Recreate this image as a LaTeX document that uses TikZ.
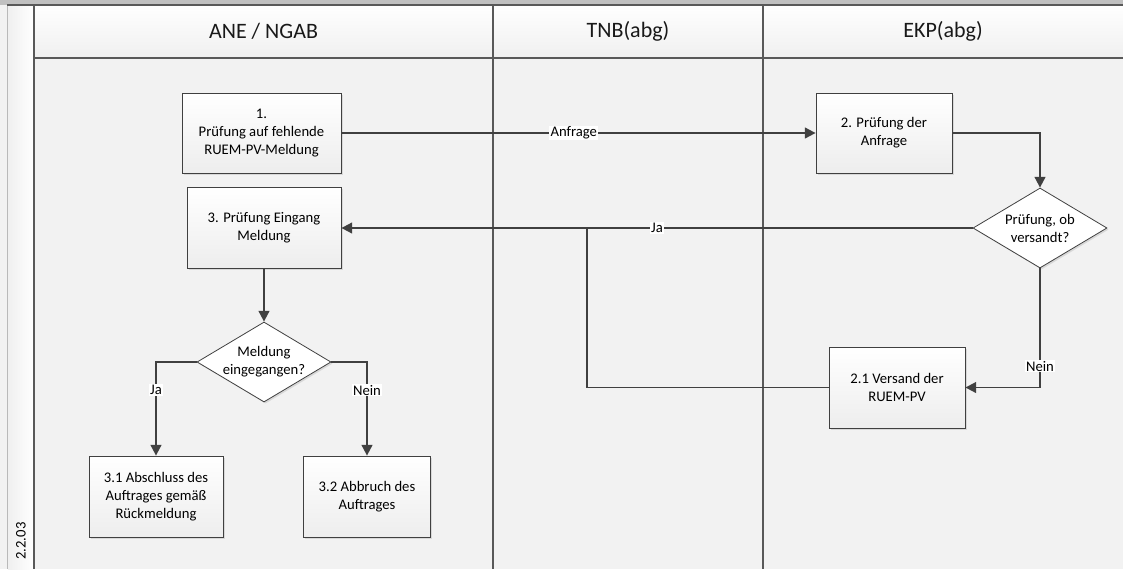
\documentclass[tikz,border=0pt]{standalone}
\usepackage{fontspec}
\setmainfont{Carlito}
\usepackage{tikz}
\usetikzlibrary{arrows.meta, shapes.geometric, shadows, positioning}

\definecolor{lanebg}{HTML}{F2F2F2}
\definecolor{laneline}{HTML}{595959}
\definecolor{flowline}{HTML}{404040}
\definecolor{topbar}{HTML}{C0C0C0}

\tikzset{
  proc/.style={draw=flowline, line width=0.6pt, top color=white, bottom color=gray!14,
    align=center, font=\fontsize{11}{13.5}\selectfont, inner sep=2pt,
    drop shadow={shadow xshift=1.2pt, shadow yshift=-1.2pt, opacity=0.22}},
  dec/.style={diamond, aspect=1.7, draw=flowline, line width=0.6pt, fill=white,
    align=center, font=\fontsize{11}{13.5}\selectfont, inner sep=-1pt,
    minimum width=100.5pt, minimum height=60pt,
    drop shadow={shadow xshift=1.2pt, shadow yshift=-1.2pt, opacity=0.22}},
  flow/.style={draw=flowline, line width=1.4pt, -{Triangle[length=8pt,width=8pt]}},
  mergeline/.style={draw=flowline, line width=1.4pt},
  lbl/.style={fill=white, inner sep=0.8pt, font=\fontsize{11}{13}\selectfont},
  lanehead/.style={font=\fontsize{16.5}{20}\selectfont, text=black!90},
  lanerule/.style={draw=laneline, line width=1.3pt}
}

\begin{document}
\begin{tikzpicture}[x=0.75pt, y=-0.75pt]
\useasboundingbox (0,0) rectangle (1123,569);

%//swimlane frame
\fill[lanebg] (0,0) rectangle (1123,569);
\fill[topbar] (0,0) rectangle (1123,5);
\shade[left color=gray!12, right color=white] (8,5) rectangle (34,569);
\draw[gray!55, line width=0.75pt] (7.5,5) -- (7.5,569);
\shade[top color=white, bottom color=gray!12] (34,5) rectangle (1123,58);
\draw[lanerule] (7,5) -- (1123,5);
\draw[lanerule] (34,58) -- (1123,58);
\foreach \x in {34,493,763}
\draw[lanerule] (\x,5) -- (\x,569);

\node[lanehead] (ane) at (263.5,31.5) {ANE / NGAB};
\node[lanehead] (tnb) at (628,31.5) {TNB(abg)};
\node[lanehead] (ekp) at (943,31.5) {EKP(abg)};
\node[rotate=90, font=\fontsize{11}{13}\selectfont] (nr) at (21,541) {2.2.03};

%//steps
\node[proc, minimum width=119.25pt, minimum height=60pt] (p1) at (261.5,133) {1.\\Prüfung auf fehlende\\RUEM-PV-Meldung};
\node[proc, minimum width=102pt, minimum height=60pt] (p2) at (884,133) {2. Prüfung der\\Anfrage};
\node[dec] (d1) at (1040,228) {Prüfung, ob\\versandt?};
\node[proc, minimum width=102pt, minimum height=60.75pt] (p21) at (897,387.5) {2.1 Versand der\\RUEM-PV};
\node[proc, minimum width=115.5pt, minimum height=60.75pt] (p3) at (264,228) {3. Prüfung Eingang\\Meldung};
\node[dec] (d2) at (264,362) {Meldung\\eingegangen?};
\node[proc, minimum width=100.5pt, minimum height=60.75pt] (p31) at (156,496.5) {3.1 Abschluss des\\Auftrages gemäß\\Rückmeldung};
\node[proc, minimum width=95.25pt, minimum height=60.75pt] (p32) at (367,496.5) {3.2 Abbruch des\\Auftrages};
\coordinate (jn) at (587,228);

%//connectors
\draw[flow] (p1) -- node[lbl, pos=0.49] {Anfrage} (p2);
\draw[flow] (p2.east) -| (d1.north);
\draw[flow] (d1.west) -- node[lbl] {Ja} (p3.east);
\draw[flow] (d1.south) |- node[lbl, pos=0.41] {Nein} (p21.east);
\draw[mergeline] (p21.west) -| (jn);
\draw[flow] (p3) -- (d2);
\draw[flow] (d2.west) -| node[lbl, pos=0.65] {Ja} (p31.north);
\draw[flow] (d2.east) -| node[lbl, pos=0.65] {Nein} (p32.north);
\end{tikzpicture}
\end{document}
